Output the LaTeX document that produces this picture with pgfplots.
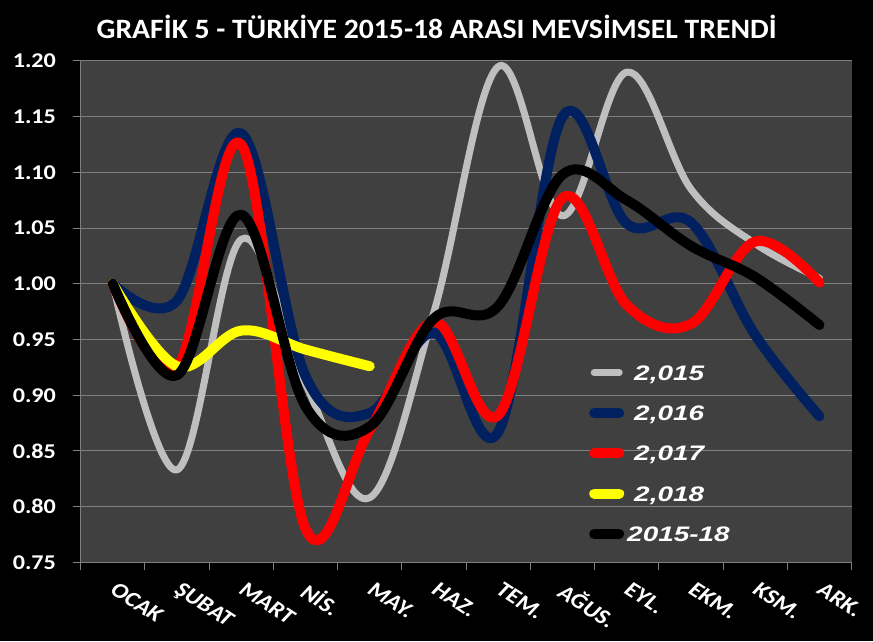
\documentclass[border=0pt]{standalone}
\usepackage{fontspec}
\setmainfont{Carlito}
\newfontfamily\legfont{Liberation Sans}
\usepackage{pgfplots}
\pgfplotsset{compat=1.18}
\definecolor{c15}{HTML}{BFBFBF}
\definecolor{c16}{HTML}{002060}
\definecolor{c17}{HTML}{FF0000}
\definecolor{c18}{HTML}{FFFF00}
\definecolor{plotbg}{HTML}{404040}
\definecolor{gridc}{HTML}{7F7F7F}
\begin{document}
\begin{tikzpicture}
\fill[black] (0pt,0pt) rectangle (873pt,641pt);
\node[anchor=base, text=white, xscale=1.06, font=\bfseries\fontsize{28}{28}\selectfont] at (436.6pt,602.7pt) {GRAFİK 5 - TÜRKİYE 2015-18 ARASI MEVSİMSEL TRENDİ};
\begin{axis}[
  at={(80.7pt,78.7pt)}, anchor=south west,
  scale only axis, width=770.9pt, height=501.3pt,
  xmin=-0.5, xmax=11.5, ymin=0.75, ymax=1.20,
  axis background/.style={fill=plotbg},
  axis x line*=bottom, axis y line*=left,
  axis line style={-, draw=gridc, line width=1pt},
  tick align=outside, major tick length=8pt,
  tick style={draw=gridc, line width=1pt},
  ymajorgrids, major grid style={draw=gridc, line width=1pt},
  ytick={0.75,0.80,0.85,0.90,0.95,1.00,1.05,1.10,1.15,1.20},
  /pgf/number format/assume math mode=true,
  yticklabel={\pgfmathprintnumber[fixed,fixed zerofill,precision=2]{\tick}},
  yticklabel style={xshift=-16.5pt, text=white, font=\bfseries\fontsize{21}{21}\selectfont, xscale=1.15, anchor=east, inner sep=0pt},
  xtick={-0.5,0.5,...,11.5}, xticklabels={},
  extra x ticks={0,1,2,3,4,5,6,7,8,9,10,11},
  extra x tick labels={OCAK,ŞUBAT,MART,NİS.,MAY.,HAZ.,TEM.,AĞUS.,EYL.,EKM.,KSM.,ARK.},
  extra x tick style={major tick length=0pt},
  xticklabel style={xshift=6pt, yshift=-19pt, text=white, font=\bfseries\fontsize{21}{21}\selectfont, xscale=1.2, rotate=-38, anchor=north west, inner sep=0pt},
  clip=false,
  legend style={draw=none, fill=none, text=white, font=\legfont\bfseries\itshape\fontsize{21}{21}\selectfont,
    at={(axis description cs:0.6594,0.3936)}, anchor=north west, inner sep=0pt, row sep=25.3pt,
    nodes={inner sep=0pt, text height=15pt, text depth=0pt},
    /tikz/every odd column/.append style={column sep=10pt}},
  legend cell align=left,
  legend image code/.code={\draw[#1, line cap=round] (0pt,0pt) -- (25pt,0pt);},
  every axis plot/.append style={smooth, tension=0.6, line cap=round, line join=round},
]
\addplot[c15, line width=7pt] coordinates {(0,1.000)(1,0.833)(2,1.040)(3,0.910)(4,0.808)(5,0.975)(6,1.195)(7,1.061)(8,1.190)(9,1.085)(10,1.036)(11,1.005)};
\addlegendentry{\scalebox{1.33}[1]{2,015}}
\addplot[c16, line width=10pt] coordinates {(0,1.000)(1,0.985)(2,1.135)(3,0.917)(4,0.884)(5,0.956)(6,0.867)(7,1.150)(8,1.054)(9,1.055)(10,0.954)(11,0.881)};
\addlegendentry{\scalebox{1.33}[1]{2,016}}
\addplot[c17, line width=10pt] coordinates {(0,1.000)(1,0.925)(2,1.125)(3,0.780)(4,0.869)(5,0.966)(6,0.882)(7,1.077)(8,0.981)(9,0.964)(10,1.038)(11,1.001)};
\addlegendentry{\scalebox{1.33}[1]{2,017}}
\addplot[c18, line width=10pt] coordinates {(0,1.000)(1,0.926)(2,0.958)(3,0.941)(4,0.926)};
\addlegendentry{\scalebox{1.33}[1]{2,018}}
\addplot[black, line width=10pt] coordinates {(0,1.000)(1,0.918)(2,1.062)(3,0.890)(4,0.872)(5,0.969)(6,0.980)(7,1.098)(8,1.075)(9,1.034)(10,1.006)(11,0.963)};
\addlegendentry{\hspace*{-7pt}\scalebox{1.33}[1]{2015-18}}
\end{axis}
\pgfresetboundingbox
\path (0pt,0pt) rectangle (873pt,641pt);
\end{tikzpicture}
\end{document}
